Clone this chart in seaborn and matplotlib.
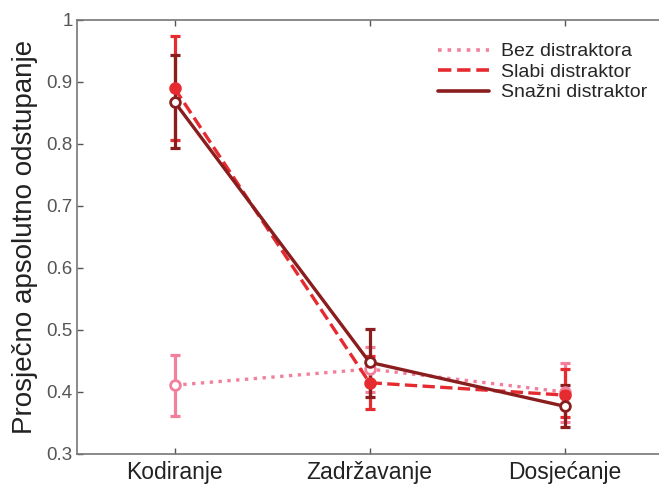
import matplotlib
matplotlib.use("Agg")
import matplotlib.pyplot as plt
from matplotlib.lines import Line2D
import seaborn as sns
import pandas as pd

phases = ["Kodiranje", "Zadržavanje", "Dosjećanje"]
positions = [1, 2, 3]

bez_mean = [0.411, 0.437, 0.400]
bez_low = [0.362, 0.400, 0.352]
bez_high = [0.459, 0.472, 0.447]

slabi_mean = [0.890, 0.415, 0.395]
slabi_low = [0.806, 0.372, 0.360]
slabi_high = [0.975, 0.458, 0.437]

snazni_mean = [0.868, 0.448, 0.377]
snazni_low = [0.793, 0.392, 0.344]
snazni_high = [0.943, 0.502, 0.411]

series = [
    ("Bez distraktora", bez_mean, bez_low, bez_high, "#f27f9b", ":", "white"),
    ("Slabi distraktor", slabi_mean, slabi_low, slabi_high, "#e52a30", "--", "#e52a30"),
    ("Snažni distraktor", snazni_mean, snazni_low, snazni_high, "#8a1d1d", "-", "white"),
]

sns.set_style("white")
plt.rcParams["font.family"] = ["Liberation Sans", "DejaVu Sans"]

fig = plt.figure(figsize=(6.59, 4.87), dpi=100)
ax = fig.add_axes([77 / 659, 1 - 454 / 487, 585 / 659, 434 / 487])

for label, mean, low, high, color, ls, mfc in series:
    df = pd.DataFrame({"x": positions, "y": mean})
    yerr = [[m - l for m, l in zip(mean, low)], [h - m for m, h in zip(mean, high)]]
    ax.errorbar(positions, mean, yerr=yerr, fmt="none", ecolor=color,
                elinewidth=2.3, capsize=3.8, capthick=2.3, zorder=2)
    sns.lineplot(data=df, x="x", y="y", ax=ax, color=color, linestyle=ls,
                 linewidth=2.4, marker="o", markersize=7, markerfacecolor=mfc,
                 markeredgecolor=color, markeredgewidth=2, label=label, zorder=3)

ax.set_xlim(0.5, 3.5)
ax.set_ylim(0.3, 1.0)
ax.set_xticks(positions)
ax.set_xticklabels(phases, fontsize=16.5, color="#222222")
ax.set_yticks([0.3, 0.4, 0.5, 0.6, 0.7, 0.8, 0.9, 1.0])
ax.set_yticklabels(["0.3", "0.4", "0.5", "0.6", "0.7", "0.8", "0.9", "1"],
                   fontsize=13.5, color="#555555")
ax.tick_params(axis="both", direction="in", length=4, width=1, color="#555555",
               top=True, right=False, bottom=True, left=True)
ax.tick_params(axis="x", pad=5)
ax.tick_params(axis="y", pad=3)
for s in ax.spines.values():
    s.set_color("#777777")
    s.set_linewidth(1.2)

ax.set_xlabel("")
ax.set_ylabel("Prosječno apsolutno odstupanje", fontsize=20, color="#222222", labelpad=6)

leg_handles = [Line2D([], [], color=c, linestyle=ls, linewidth=2.6) for _, _, _, _, c, ls, _ in series]
ax.legend(leg_handles, [s[0] for s in series], loc="upper left",
          bbox_to_anchor=(0.588, 0.988), frameon=False, fontsize=14,
          handlelength=2.6, handletextpad=0.6, labelspacing=0.15)

fig.savefig("out.png", dpi=100)
